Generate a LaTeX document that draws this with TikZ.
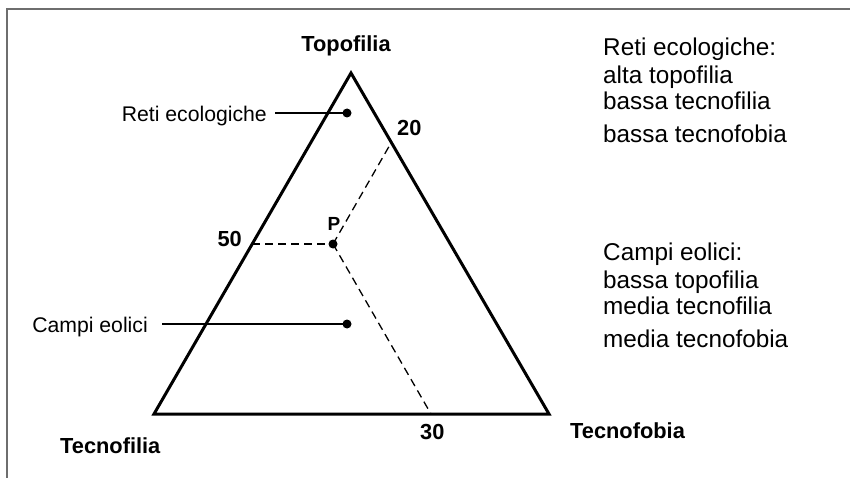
\documentclass[tikz,border=0pt]{standalone}
\usepackage{fontspec}
\setmainfont{Liberation Sans}
\begin{document}
\begin{tikzpicture}[x=1pt,y=-1pt,
  lbl/.style={inner sep=0pt,font=\fontsize{21.8}{22}\selectfont\bfseries},
  side/.style={inner sep=0pt,font=\fontsize{21.2}{21}\selectfont},
  info/.style={inner sep=0pt,anchor=base west,font=\fontsize{24.3}{24}\selectfont},
  tri/.style={line width=3pt,line join=miter},
  guide/.style={line width=1.3pt,dash pattern=on 8pt off 5pt},
  lead/.style={line width=1.3pt},
  dot/.style={circle,fill=black,inner sep=0pt,minimum size=9pt},
  frame/.style={draw=black!57,line width=2pt}]
\useasboundingbox (0,0) rectangle (850,478);
\fill[white] (0,0) rectangle (850,478);
\draw[frame] (6.5,478) -- (6.5,9) -- (850,9);
% triangle
\coordinate (A) at (351,73);
\coordinate (B) at (154,414);
\coordinate (C) at (549,414);
\draw[tri] (A) -- (B) -- (C) -- cycle;
% point P and guides
\node[dot] (P) at (333,244) {};
\coordinate (g50) at (252,244);
\coordinate (g20) at (391,143);
\coordinate (g30) at (431,414);
\draw[guide] (g50) -- (P.center);
\draw[guide] (P.center) -- (g20);
\draw[guide] (P.center) -- (g30);
% labels
\node[lbl,anchor=base] (top) at (346,52) {Topofilia};
\node[lbl,anchor=base west] (tfil) at (60,453) {Tecnofilia};
\node[lbl,anchor=base west] (tfob) at (570,438) {Tecnofobia};
\node[lbl,anchor=base west] (n30) at (420,439) {30};
\node[lbl,anchor=base west] (n20) at (397,136) {20};
\node[lbl,anchor=base east] (n50) at (242,246) {50};
\node[lbl,anchor=base,font=\fontsize{19}{19}\selectfont\bfseries] (pl) at (334,230) {P};
% leaders
\node[dot] (d1) at (347,113) {};
\node[dot] (d2) at (347,324) {};
\node[side,anchor=base east] (reti) at (267,122) {Reti ecologiche};
\node[side,anchor=base east] (campi) at (148,332) {Campi eolici};
\coordinate (r0) at (275,113);
\coordinate (c0) at (162,324);
\draw[lead] (r0) -- (d1.center);
\draw[lead] (c0) -- (d2.center);
% right text
\node[info] (i1) at (603,56) {Reti ecologiche:};
\node[info] (i2) at (603,84) {alta topofilia};
\node[info] (i3) at (603,110) {bassa tecnofilia};
\node[info] (i4) at (603,143) {bassa tecnofobia};
\node[info] (i5) at (603,260) {Campi eolici:};
\node[info] (i6) at (603,288) {bassa topofilia};
\node[info] (i7) at (603,314) {media tecnofilia};
\node[info] (i8) at (603,347) {media tecnofobia};
\end{tikzpicture}
\end{document}
